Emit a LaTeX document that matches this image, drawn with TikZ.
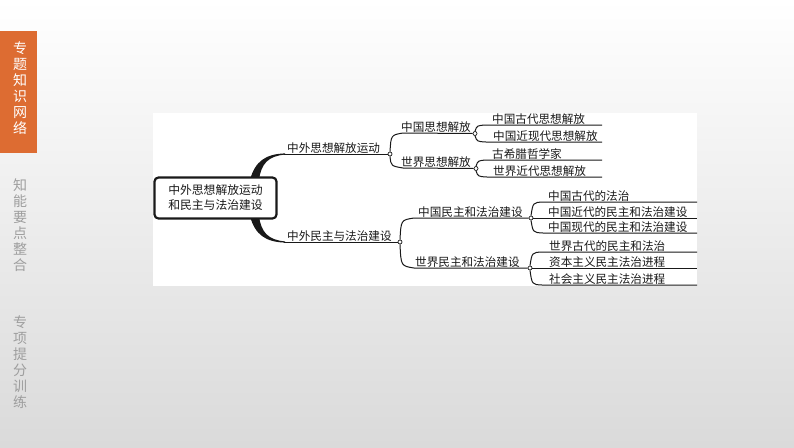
\documentclass[tikz,border=0pt]{standalone}
\usepackage{fontspec}
\newfontfamily\cjk{Noto Sans CJK SC}
\definecolor{sideorange}{RGB}{221,108,50}
\definecolor{sidegrey}{RGB}{158,158,158}
\definecolor{ink}{RGB}{25,25,25}
\definecolor{bgbottom}{RGB}{218,218,218}
\begin{document}
\begin{tikzpicture}[x=1pt,y=-1pt,
  lbl/.style={anchor=base west,inner sep=0pt,font=\cjk\fontsize{11.6}{12}\selectfont,text=ink},
  conn/.style={draw=ink,line width=1pt},
  dot/.style={circle,draw=ink,fill=white,line width=0.7pt,inner sep=0pt,minimum size=4pt},
  side/.style={font=\cjk\fontsize{14}{16}\selectfont,align=center,inner sep=0pt},
  rootbox/.style={draw=ink,line width=2.2pt,rounded corners=4pt,fill=white,minimum width=122pt,minimum height=41pt,align=center,inner sep=0pt,font=\cjk\fontsize{11.8}{15}\selectfont,text=ink}
]
\useasboundingbox (0,0) rectangle (794,447);
\shade[top color=white,bottom color=bgbottom] (0,0) rectangle (794,447);

% sidebar
\fill[sideorange] (0,31) rectangle (37,153);
\node[side,text=white] (s1) at (20,88) {专\\题\\知\\识\\网\\络};
\node[side,text=sidegrey] (s2) at (20,225) {知\\能\\要\\点\\整\\合};
\node[side,text=sidegrey] (s3) at (20,362) {专\\项\\提\\分\\训\\练};

% panel
\fill[white] (153,113) rectangle (697,286);

% tapered main branches
\fill[ink] (250,180) .. controls (255,161) and (266,154) .. (285,153.4)
  -- (285,154.6) .. controls (268,156) and (261,164) .. (259,180) -- cycle;
\fill[ink] (250,216) .. controls (255,235) and (266,242) .. (285,242.6)
  -- (285,241.4) .. controls (268,240) and (261,232) .. (259,216) -- cycle;

% root
\node[rootbox] (root) at (215.5,198) {中外思想解放运动\\和民主与法治建设};

% level 1
\coordinate (Al) at (284,154);
\node[dot] (Ad) at (390,154) {};
\node[lbl] (At) at (287,152) {中外思想解放运动};
\draw[conn] (Al) -- (Ad.west);

\coordinate (Bl) at (284,242);
\node[dot] (Bd) at (400,242) {};
\node[lbl] (Bt) at (287,240) {中外民主与法治建设};
\draw[conn] (Bl) -- (Bd.west);

% level 2
\coordinate (A1l) at (403,133);
\node[dot] (A1d) at (475,133.5) {};
\node[lbl] (A1t) at (401,131) {中国思想解放};
\draw[conn] (Ad.north) .. controls (391,135) .. (A1l) -- (A1d.west);

\coordinate (A2l) at (403,168);
\node[dot] (A2d) at (476,168.5) {};
\node[lbl] (A2t) at (401,166) {世界思想解放};
\draw[conn] (Ad.south) .. controls (391,166) .. (A2l) -- (A2d.west);

\coordinate (B1l) at (414,218);
\node[dot] (B1d) at (531,218) {};
\node[lbl] (B1t) at (418,216) {中国民主和法治建设};
\draw[conn] (Bd.north) .. controls (401,220) .. (B1l) -- (B1d.west);

\coordinate (B2l) at (414,268);
\node[dot] (B2d) at (530,268) {};
\node[lbl] (B2t) at (415,266) {世界民主和法治建设};
\draw[conn] (Bd.south) .. controls (401,266) .. (B2l) -- (B2d.west);

% level 3 (upper)
\coordinate (a1l) at (486,125); \coordinate (a1r) at (602,125);
\node[lbl] (a1t) at (492,123) {中国古代思想解放};
\draw[conn] (A1d.north) .. controls (477,125.5) .. (a1l) -- (a1r);
\coordinate (a2l) at (486,142); \coordinate (a2r) at (602,142);
\node[lbl] (a2t) at (493,140) {中国近现代思想解放};
\draw[conn] (A1d.south) .. controls (477,141.5) .. (a2l) -- (a2r);

\coordinate (a3l) at (487,160); \coordinate (a3r) at (602,160);
\node[lbl] (a3t) at (492,158) {古希腊哲学家};
\draw[conn] (A2d.north) .. controls (478,160.5) .. (a3l) -- (a3r);
\coordinate (a4l) at (487,177); \coordinate (a4r) at (602,177);
\node[lbl] (a4t) at (493,175) {世界近代思想解放};
\draw[conn] (A2d.south) .. controls (478,176.5) .. (a4l) -- (a4r);

% level 3 (lower)
\coordinate (b1l) at (543,202); \coordinate (b1r) at (697,202);
\node[lbl] (b1t) at (548,200) {中国古代的法治};
\draw[conn] (B1d.north) .. controls (533,202.5) .. (b1l) -- (b1r);
\coordinate (b2r) at (697,218);
\node[lbl] (b2t) at (548,216) {中国近代的民主和法治建设};
\draw[conn] (B1d.east) -- (b2r);
\coordinate (b3l) at (543,233); \coordinate (b3r) at (697,233);
\node[lbl] (b3t) at (548,231) {中国现代的民主和法治建设};
\draw[conn] (B1d.south) .. controls (533,232.5) .. (b3l) -- (b3r);

\coordinate (c1l) at (542,252); \coordinate (c1r) at (697,252);
\node[lbl] (c1t) at (549,250) {世界古代的民主和法治};
\draw[conn] (B2d.north) .. controls (532,252.5) .. (c1l) -- (c1r);
\coordinate (c2r) at (697,268);
\node[lbl] (c2t) at (549,266) {资本主义民主法治进程};
\draw[conn] (B2d.east) -- (c2r);
\coordinate (c3l) at (542,285); \coordinate (c3r) at (697,285);
\node[lbl] (c3t) at (549,283) {社会主义民主法治进程};
\draw[conn] (B2d.south) .. controls (532,284.5) .. (c3l) -- (c3r);
\end{tikzpicture}
\end{document}
